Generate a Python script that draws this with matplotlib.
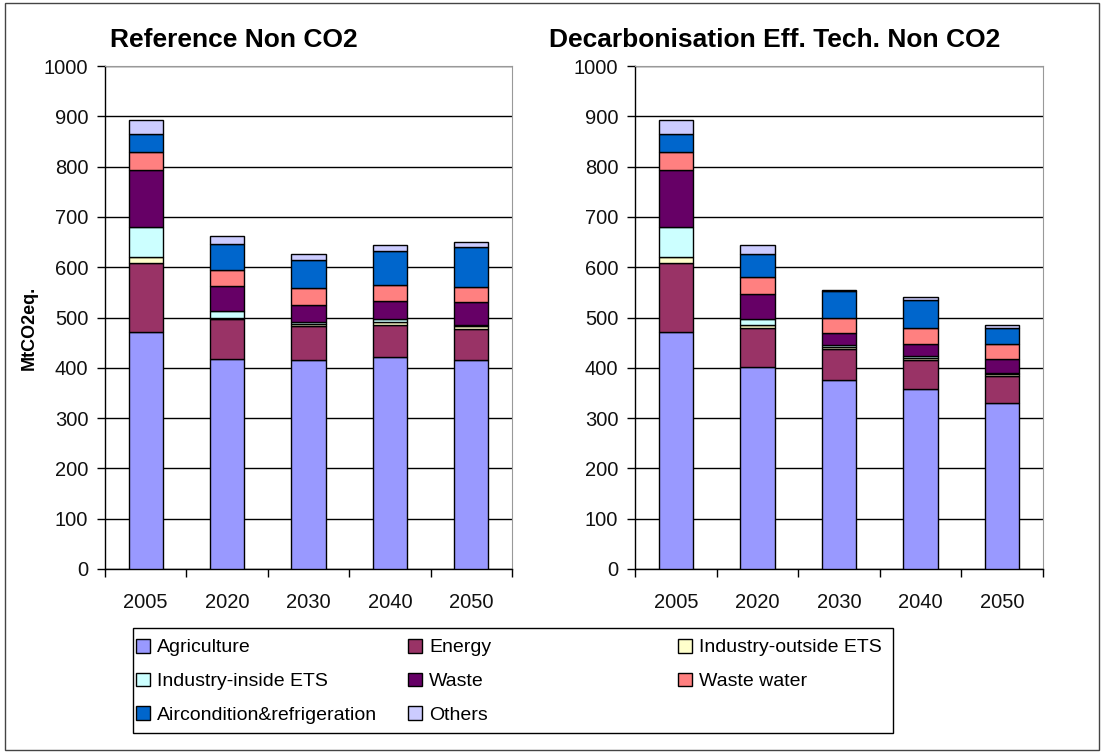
import matplotlib.pyplot as plt
from matplotlib.patches import Rectangle

plt.rcParams['font.family'] = ['Liberation Sans', 'DejaVu Sans']

years = ['2005', '2020', '2030', '2040', '2050']
sectors = ['Agriculture', 'Energy', 'Industry-outside ETS', 'Industry-inside ETS',
           'Waste', 'Waste water', 'Aircondition&refrigeration', 'Others']
colors = ['#9999FF', '#993366', '#FFFFCC', '#CCFFFF',
          '#660066', '#FF8080', '#0066CC', '#CCCCFF']

# MtCO2eq per sector, one list per sector
ref_agriculture = [472, 418, 415, 422, 415]
ref_energy      = [137, 79, 68, 64, 62]
ref_ind_outside = [11, 3, 4, 5, 6]
ref_ind_inside  = [60, 12, 4, 7, 3]
ref_waste       = [114, 51, 34, 34, 45]
ref_wastewater  = [35, 31, 33, 32, 30]
ref_aircon      = [35, 52, 57, 68, 79]
ref_others      = [28, 16, 11, 13, 10]

dec_agriculture = [472, 402, 376, 357, 331]
dec_energy      = [137, 78, 61, 58, 52]
dec_ind_outside = [11, 5, 4, 4, 4]
dec_ind_inside  = [60, 12, 4, 4, 3]
dec_waste       = [114, 49, 25, 24, 28]
dec_wastewater  = [35, 34, 30, 33, 29]
dec_aircon      = [35, 46, 52, 54, 33]
dec_others      = [28, 19, 2, 7, 6]

ref = [ref_agriculture, ref_energy, ref_ind_outside, ref_ind_inside,
       ref_waste, ref_wastewater, ref_aircon, ref_others]
dec = [dec_agriculture, dec_energy, dec_ind_outside, dec_ind_inside,
       dec_waste, dec_wastewater, dec_aircon, dec_others]

fig = plt.figure(figsize=(11.04, 7.53), dpi=100)
W, H = 1104, 753

def px(x0, y0, x1, y1):
    # pixel box -> figure fraction [left, bottom, width, height]
    return [x0 / W, 1 - y1 / H, (x1 - x0) / W, (y1 - y0) / H]

ax1 = fig.add_axes(px(105, 66, 512, 569))
ax2 = fig.add_axes(px(635, 66, 1043, 569))

handles = []
for ax, data in [(ax1, ref), (ax2, dec)]:
    x = list(range(len(years)))
    bottom = [0] * len(years)
    handles = []
    for vals, col in zip(data, colors):
        b = ax.bar(x, vals, 0.42, bottom=bottom, color=col,
                   edgecolor='black', linewidth=1, zorder=3)
        handles.append(b)
        bottom = [a + v for a, v in zip(bottom, vals)]

    ax.set_xlim(-0.5, 4.5)
    ax.set_ylim(0, 1000)
    ax.set_yticks(range(0, 1001, 100))
    ax.grid(axis='y', color='black', linewidth=1, zorder=0)
    ax.set_axisbelow(True)
    ax.spines['top'].set_color('#999999')
    ax.spines['right'].set_color('#999999')
    ax.spines['left'].set_linewidth(1)
    ax.spines['bottom'].set_linewidth(1)
    ax.set_xticks(x)
    ax.set_xticklabels(years)
    ax.set_xticks([i - 0.5 for i in range(len(years) + 1)], minor=True)
    ax.tick_params(axis='x', which='major', length=0, pad=17, labelsize=14.5,
                   labelcolor='#111111')
    ax.tick_params(axis='x', which='minor', length=6, width=1, direction='out')
    ax.tick_params(axis='y', length=6, width=1, direction='out', pad=6,
                   labelsize=14.5, labelcolor='#111111')

fig.text(234 / W, 1 - 40 / H, 'Reference Non CO2', ha='center', va='center',
         fontsize=19, fontweight='bold')
fig.text(775 / W, 1 - 40 / H, 'Decarbonisation Eff. Tech. Non CO2', ha='center',
         va='center', fontsize=19, fontweight='bold')
fig.text(29 / W, 1 - 328 / H, 'MtCO2eq.', rotation=90, ha='center', va='center',
         fontsize=13, fontweight='bold')

# legend: three columns, filled row by row like the original
cols = [[0, 3, 6], [1, 4, 7], [2, 5]]
col_x = [132, 404, 674]
for idx, cx in zip(cols, col_x):
    leg = fig.legend([handles[i] for i in idx], [sectors[i] for i in idx],
                     loc='upper left', bbox_to_anchor=(cx / W, 1 - 635 / H),
                     frameon=False, fontsize=14, handlelength=0.7,
                     handleheight=0.7, handletextpad=0.4, labelspacing=0.83,
                     borderaxespad=0, borderpad=0.2)

fig.patches.append(Rectangle((133 / W, 1 - 733 / H), (893 - 133) / W,
                             (733 - 628) / H, transform=fig.transFigure,
                             fill=False, edgecolor='black', linewidth=1))
fig.patches.append(Rectangle((5 / W, 1 - 750 / H), (1099 - 5) / W,
                             (750 - 3) / H, transform=fig.transFigure,
                             fill=False, edgecolor='#444444', linewidth=1))

fig.savefig('out.png', dpi=100)
